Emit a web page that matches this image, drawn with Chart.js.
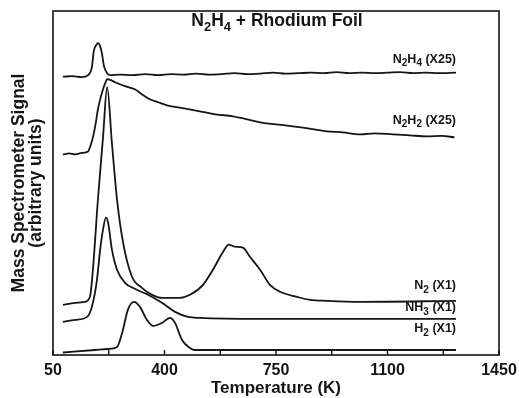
<!DOCTYPE html>
<html>
<head>
<meta charset="utf-8">
<script src="https://cdn.jsdelivr.net/npm/chart.js@4.4.1/dist/chart.umd.min.js"></script>
<style>
  html, body { margin: 0; padding: 0; background: #fff; }
  #wrap { width: 519px; height: 398px; }
</style>
</head>
<body>
<div id="wrap"><canvas id="tpd"></canvas></div>
<script>
// --- TPD traces, N2H4 on Rh foil ---
// temperature (K) and signal (arbitrary units, traces already stacked)
const n2h4Temp = [81, 110, 140, 160, 172, 178, 188, 191, 198, 204, 210, 220, 229, 260, 300, 340, 380, 420, 460, 500,
  540, 580, 620, 660, 700, 740, 780, 820, 860, 900, 940, 980, 1020, 1060, 1100, 1140, 1180, 1220, 1260, 1315];
const n2h4Signal = [277.5, 278, 277, 279, 287, 303, 310, 311, 308, 300, 288, 281, 279, 279.5, 279, 280, 279, 280, 279.5, 280.5,
  279.5, 280, 281, 280, 280.5, 281.5, 280.5, 281, 281.5, 281, 282, 281, 281.5, 281, 281.5, 282, 281, 281.5, 281, 281.5];

const n2h2Temp = [81, 100, 120, 140, 160, 168, 176, 184, 191, 199, 207, 214, 220, 232, 245, 276, 307, 329, 354, 380,
  408, 460, 511, 560, 615, 660, 700, 750, 803, 850, 910, 960, 1014, 1060, 1117, 1170, 1224, 1270, 1310];
const n2h2Signal = [200, 201, 200, 201.5, 203, 209, 218, 231, 245, 256, 265, 271, 275, 274, 272, 268, 265, 260, 255, 252,
  249, 246, 243, 240, 238, 235, 232, 230, 228, 226, 223, 222, 220, 221, 220, 219, 218, 218.5, 217];

const n2Temp = [81, 119, 150, 166, 176, 191, 207, 220, 235, 251, 270, 298, 329, 361, 392, 433, 449, 480, 521, 552,
  584, 602, 621, 646, 668, 700, 731, 763, 816, 857, 910, 1014, 1315];
const n2Signal = [50, 52, 53, 58, 88, 155, 217, 267, 211, 155, 112, 78, 67, 60, 57, 57, 57, 60, 70, 85,
  103, 110, 108, 107, 98, 85, 70, 63, 58, 55, 54, 53, 54];

const nh3Temp = [81, 119, 157, 172, 188, 198, 207, 216, 223, 235, 251, 276, 307, 348, 392, 433, 474, 511, 700, 1315];
const nh3Signal = [33, 35, 38, 48, 75, 105, 125, 137, 132, 105, 85, 72, 66, 60, 52, 43, 38, 37, 36, 36];

const h2Temp = [81, 182, 223, 251, 267, 285, 304, 323, 345, 364, 392, 417, 433, 455, 480, 496, 615, 1315];
const h2Signal = [2.5, 5, 6, 8, 22, 45, 53, 48, 35, 29, 32, 37, 32, 15, 7, 5, 5, 5];

const xTickValues = [50, 225, 400, 575, 750, 925, 1100, 1275, 1450];
const xTickLabels = ["50", "", "400", "", "750", "", "1100", "", "1450"];

// label text pieces: [text, isSubscript]
const titleParts = [["N", false], ["2", true], ["H", false], ["4", true], [" + Rhodium Foil", false]];
const traceLabels = [
  [["N", false], ["2", true], ["H", false], ["4", true], [" (X25)", false]],
  [["N", false], ["2", true], ["H", false], ["2", true], [" (X25)", false]],
  [["N", false], ["2", true], [" (X1)", false]],
  [["NH", false], ["3", true], [" (X1)", false]],
  [["H", false], ["2", true], [" (X1)", false]],
];
const traceLabelLevels = [296, 235, 70, 48, 27];

const FONT = '"Liberation Sans", Arial, Helvetica, sans-serif';
const INK = "#151515";

function toPoints(xs, ys) {
  return xs.map((x, i) => ({ x, y: ys[i] }));
}

function drawRich(ctx, parts, x, y, size, subSize, subDrop, align) {
  const main = "bold " + size + "px " + FONT;
  const sub = "bold " + subSize + "px " + FONT;
  let total = 0;
  parts.forEach(([t, s]) => { ctx.font = s ? sub : main; total += ctx.measureText(t).width; });
  let cx = align === "right" ? x - total : align === "center" ? x - total / 2 : x;
  ctx.textAlign = "left";
  ctx.textBaseline = "alphabetic";
  parts.forEach(([t, s]) => {
    ctx.font = s ? sub : main;
    ctx.fillText(t, cx, s ? y + subDrop : y);
    cx += ctx.measureText(t).width;
  });
}

const framePlugin = {
  id: "frame",
  afterDraw(chart) {
    const { ctx, chartArea: a, scales } = chart;
    ctx.save();
    ctx.strokeStyle = INK;
    ctx.fillStyle = INK;
    ctx.lineWidth = 1.6;
    ctx.strokeRect(a.left, a.top, a.right - a.left, a.bottom - a.top);
    // inward tick marks on the temperature axis
    ctx.lineWidth = 1.4;
    xTickValues.forEach((v) => {
      const px = scales.x.getPixelForValue(v);
      ctx.beginPath();
      ctx.moveTo(px, a.bottom);
      ctx.lineTo(px, a.bottom - 5);
      ctx.stroke();
    });
    // title inside the frame
    drawRich(ctx, titleParts, (a.left + a.right) / 2 + 1, a.top + 15, 17.5, 13, 4.5, "center");
    // trace labels, right aligned at the end of the traces
    const xr = scales.x.getPixelForValue(1315);
    traceLabels.forEach((parts, i) => {
      const py = scales.y.getPixelForValue(traceLabelLevels[i]);
      drawRich(ctx, parts, xr, py + 4.5, 12.5, 10, 3.5, "right");
    });
    ctx.restore();
  },
};

const lineStyle = {
  borderColor: INK,
  borderWidth: 1.8,
  pointRadius: 0,
  fill: false,
  cubicInterpolationMode: "monotone",
};

new Chart(document.getElementById("tpd"), {
  type: "line",
  data: {
    datasets: [
      { label: "N2H4 (X25)", data: toPoints(n2h4Temp, n2h4Signal), ...lineStyle },
      { label: "N2H2 (X25)", data: toPoints(n2h2Temp, n2h2Signal), ...lineStyle },
      { label: "N2 (X1)", data: toPoints(n2Temp, n2Signal), ...lineStyle },
      { label: "NH3 (X1)", data: toPoints(nh3Temp, nh3Signal), ...lineStyle },
      { label: "H2 (X1)", data: toPoints(h2Temp, h2Signal), ...lineStyle },
    ],
  },
  options: {
    responsive: true,
    maintainAspectRatio: false,
    animation: false,
    layout: { padding: { top: 11, right: 20, left: 0, bottom: 0 } },
    plugins: { legend: { display: false }, tooltip: { enabled: false } },
    scales: {
      x: {
        type: "linear",
        min: 50,
        max: 1450,
        grid: { display: false },
        border: { display: false },
        afterBuildTicks: (scale) => { scale.ticks = xTickValues.map((v) => ({ value: v })); },
        afterFit: (scale) => { scale.height = 43; },
        ticks: {
          autoSkip: false,
          maxRotation: 0,
          padding: 0,
          color: INK,
          font: { family: FONT, size: 16, weight: "bold", lineHeight: 1 },
          callback: (v) => xTickLabels[xTickValues.indexOf(v)],
        },
        title: {
          display: true,
          text: "Temperature (K)",
          color: INK,
          font: { family: FONT, size: 17, weight: "bold", lineHeight: 1 },
          padding: { top: 0, bottom: 1.5 },
        },
      },
      y: {
        min: 0,
        max: 343,
        grid: { display: false },
        border: { display: false },
        ticks: { display: false },
        afterFit: (scale) => { scale.width = 53; },
        title: {
          display: true,
          text: ["Mass Spectrometer Signal", "(arbitrary units)"],
          color: INK,
          font: { family: FONT, size: 17.5, weight: "bold", lineHeight: 1 },
          padding: { top: 10, bottom: 0 },
        },
      },
    },
  },
  plugins: [framePlugin],
});
</script>
</body>
</html>
